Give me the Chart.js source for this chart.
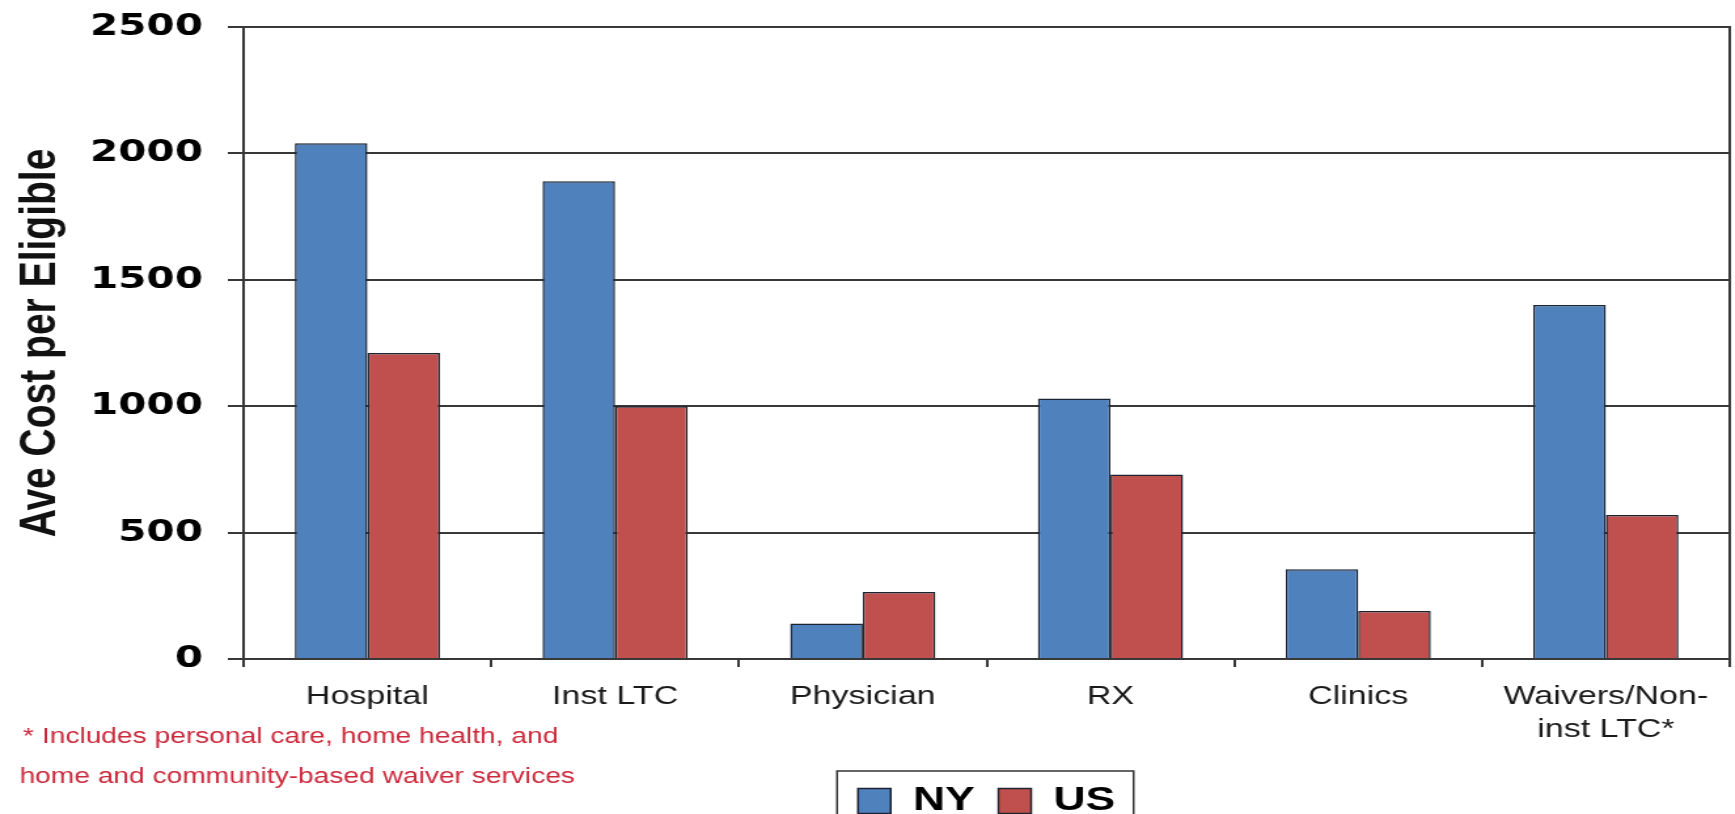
<!DOCTYPE html>
<html>
<head>
<meta charset="utf-8">
<script src="https://cdn.jsdelivr.net/npm/chart.js@4/dist/chart.umd.min.js"></script>
<style>
  html, body { margin: 0; padding: 0; background: #fff; overflow: hidden; width: 1735px; height: 814px; }
  /* the slide artwork is stretched horizontally; draw narrow and widen */
  #wrap { position: absolute; left: 0; top: 0; width: 1325px; height: 860px;
          transform: scaleX(1.3094); transform-origin: 0 0; }
  canvas { display: block; }
</style>
</head>
<body>
<div id="wrap"><canvas id="chart" width="1325" height="860"></canvas></div>
<script>
const categories = ['Hospital', 'Inst LTC', 'Physician', 'RX', 'Clinics', ['Waivers/Non-', 'inst LTC*']];
const nyValues = [2040, 1890, 140, 1030, 355, 1400];
const usValues = [1210, 1000, 265, 730, 190, 570];
const yTicks = [0, 500, 1000, 1500, 2000, 2500];
const yTitle = 'Ave Cost per Eligible';
const footnoteLines = ['* Includes personal care, home health, and', 'home and community-based waiver services'];

const AXIS_COLOR = '#383838';

// frame drawn around the legend items
const legendFrame = {
  id: 'legendFrame',
  afterDraw(chart) {
    const boxes = chart.legend && chart.legend.legendHitBoxes;
    if (!boxes || !boxes.length) return;
    const first = boxes[0], last = boxes[boxes.length - 1];
    const left = first.left - 16;
    const right = last.left + last.width + 14;
    const top = first.top - 13;
    const bottom = first.top + first.height + 13;
    const ctx = chart.ctx;
    ctx.save();
    ctx.strokeStyle = '#333';
    ctx.lineWidth = 1.5;
    ctx.strokeRect(left, top, right - left, bottom - top);
    ctx.restore();
  }
};

// red footnote below the category labels
const footnote = {
  id: 'footnote',
  afterDraw(chart) {
    const ctx = chart.ctx;
    const area = chart.chartArea;
    ctx.save();
    ctx.fillStyle = '#cc2a3c';
    ctx.font = '21.5px "Liberation Sans", Arial, sans-serif';
    ctx.textAlign = 'center';
    ctx.textBaseline = 'middle';
    footnoteLines.forEach((line, i) => {
      ctx.fillText(line, area.left + 36 + i * 5, area.bottom + 78 + i * 40);
    });
    ctx.restore();
  }
};

new Chart(document.getElementById('chart'), {
  type: 'bar',
  data: {
    labels: categories,
    datasets: [
      { label: 'NY', data: nyValues, backgroundColor: '#4f81bd', borderColor: '#1c2433', borderWidth: 1.5,
        categoryPercentage: 0.586, barPercentage: 1.0 },
      { label: 'US', data: usValues, backgroundColor: '#c0504d', borderColor: '#1c2433', borderWidth: 1.5,
        categoryPercentage: 0.586, barPercentage: 1.0 }
    ]
  },
  options: {
    responsive: false,
    animation: false,
    devicePixelRatio: 1,
    layout: { padding: { top: 27, right: 4, left: 0, bottom: 32 } },
    plugins: {
      tooltip: { enabled: false },
      legend: {
        display: true,
        position: 'bottom',
        fullSize: false,
        labels: {
          boxWidth: 25,
          boxHeight: 25,
          padding: 18,
          color: '#000',
          font: { family: 'Liberation Sans', size: 34, weight: 'bold' }
        }
      }
    },
    scales: {
      x: {
        grid: { display: true, drawOnChartArea: false, drawTicks: true, tickLength: 8, color: AXIS_COLOR, lineWidth: 2 },
        border: { display: true, color: AXIS_COLOR, width: 2 },
        ticks: {
          color: '#1a1a1a',
          padding: 13,
          maxRotation: 0,
          autoSkip: false,
          font: { family: 'Liberation Sans', size: 26, lineHeight: 1.27 }
        },
        afterFit(scale) { scale.height = 107; }
      },
      y: {
        min: 0,
        max: 2500,
        afterBuildTicks(scale) { scale.ticks = yTicks.map(v => ({ value: v })); },
        grid: { color: AXIS_COLOR, lineWidth: 2, tickLength: 12, drawTicks: true },
        border: { display: true, color: AXIS_COLOR, width: 2 },
        ticks: {
          color: '#000',
          padding: 19,
          callback: (value) => String(value),
          font: { family: 'DejaVu Sans', size: 31, weight: 'bold' }
        },
        title: {
          display: true,
          text: yTitle,
          color: '#111',
          padding: { top: 8, bottom: 0 },
          font: { family: 'Liberation Sans', size: 39, weight: 'bold' }
        },
        afterFit(scale) {
          scale.width = 186;
          scale.paddingTop = 0;
          scale.paddingBottom = 0;
        }
      },
      yRight: {
        type: 'linear',
        position: 'right',
        display: true,
        grid: { drawOnChartArea: false, drawTicks: false },
        border: { display: true, color: AXIS_COLOR, width: 2 },
        ticks: { display: false },
        afterFit(scale) {
          scale.width = 0;
          scale.paddingTop = 0;
          scale.paddingBottom = 0;
        }
      }
    }
  },
  plugins: [legendFrame, footnote]
});
</script>
</body>
</html>
